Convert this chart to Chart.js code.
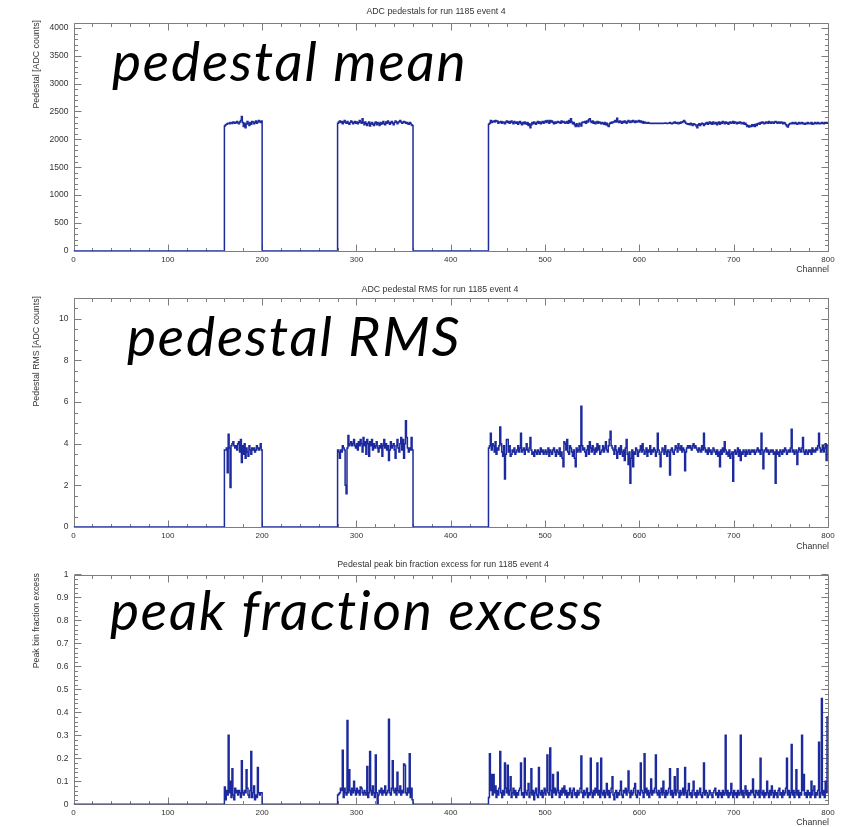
<!DOCTYPE html>
<html><head><meta charset="utf-8">
<script src="https://cdn.jsdelivr.net/npm/chart.js@4.4.1/dist/chart.umd.min.js"></script>
<style>
html,body{margin:0;padding:0;background:#fff;}
#wrap{position:relative;width:844px;height:827px;overflow:hidden;background:#fff;}
canvas{position:absolute;left:0;}
.t{position:absolute;font-family:"Liberation Sans",Arial,sans-serif;font-size:8.8px;color:#333;white-space:nowrap;line-height:1;}
.tc{transform:translateX(-50%);}
.yt{position:absolute;font-family:"Liberation Sans",Arial,sans-serif;font-size:8.8px;color:#333;white-space:nowrap;line-height:1;writing-mode:vertical-rl;transform:rotate(180deg);}
.big{position:absolute;font-family:Lato,sans-serif;font-style:italic;font-size:55px;letter-spacing:1.8px;color:#000;white-space:nowrap;line-height:1;font-variant-ligatures:none;font-feature-settings:"liga" 0,"clig" 0;}
</style></head>
<body>
<div id="wrap">
  <canvas id="c1" width="844" height="280" style="top:0px"></canvas>
  <canvas id="c2" width="844" height="277" style="top:280px"></canvas>
  <canvas id="c3" width="844" height="270" style="top:557px"></canvas>

  <div class="t tc" style="left:436px;top:7px">ADC pedestals for run 1185 event 4</div>
  <div class="t tc" style="left:440px;top:285px">ADC pedestal RMS for run 1185 event 4</div>
  <div class="t tc" style="left:443px;top:560px">Pedestal peak bin fraction excess for run 1185 event 4</div>

  <div class="yt" style="left:32px;top:20px">Pedestal [ADC counts]</div>
  <div class="yt" style="left:32px;top:296px">Pedestal RMS [ADC counts]</div>
  <div class="yt" style="left:32px;top:573px">Peak bin fraction excess</div>

  <div class="t" style="right:15px;top:265px">Channel</div>
  <div class="t" style="right:15px;top:542px">Channel</div>
  <div class="t" style="right:15px;top:818px">Channel</div>

  <div class="big" style="left:112px;top:33px">pedestal mean</div>
  <div class="big" style="left:127px;top:308px">pedestal RMS</div>
  <div class="big" style="left:110px;top:582px">peak fraction excess</div>
</div>
<script>
// ---------------- data ----------------
const NBINS = 800;                 // channels 0..799
const regionStarts = [160, 280, 440];   // first channel of each instrumented block (others read 0)

const channelTicks = [0,100,200,300,400,500,600,700,800];
const meanTicks = [0,500,1000,1500,2000,2500,3000,3500,4000];
const rmsTicks  = [0,2,4,6,8,10];
const pfTicks   = [0,0.1,0.2,0.3,0.4,0.5,0.6,0.7,0.8,0.9,1];

// pedestal mean [ADC counts]
const meanA = [2240,2262,2270,2285,2290,2280,2300,2295,2285,2310,
2300,2290,2305,2320,2295,2280,2310,2340,2410,2300,
2230,2290,2210,2270,2320,2290,2250,2300,2270,2320,
2310,2280,2300,2330,2290,2310,2340,2320,2300,2330];
const meanB = [2290,2310,2330,2300,2320,2280,2310,2340,2300,2290,
2320,2290,2270,2300,2330,2310,2280,2300,2320,2290,
2310,2280,2300,2340,2310,2290,2370,2300,2260,2310,
2280,2250,2290,2310,2240,2280,2300,2270,2250,2290,
2310,2260,2300,2280,2250,2300,2270,2290,2320,2280,
2260,2310,2290,2330,2300,2270,2300,2320,2290,2260,
2300,2330,2310,2280,2300,2320,2340,2310,2290,2300,
2320,2310,2290,2300,2280,2270,2300,2290,2260,2250];
const meanC = [
2270,2290,2340,2300,2320,2330,2310,2340,2320,2330,2290,2310,2300,2320,2290,2310,2300,2280,2310,2330,
2300,2320,2290,2310,2330,2300,2280,2320,2300,2290,2310,2270,2300,2320,2290,2260,2300,2280,2310,2290,
2270,2300,2250,2280,2210,2260,2300,2280,2310,2290,2270,2300,2320,2290,2310,2280,2300,2320,2290,2310,
2330,2300,2340,2320,2290,2340,2310,2330,2300,2280,2310,2290,2300,2320,2300,2310,2290,2330,2300,2320,
2310,2290,2300,2320,2290,2340,2300,2370,2310,2280,2300,2260,2230,2280,2250,2230,2290,2270,2240,2300,
2310,2300,2320,2290,2330,2310,2350,2370,2320,2300,2330,2290,2310,2280,2300,2320,2290,2310,2300,2280,
2300,2290,2270,2300,2260,2290,2250,2230,2280,2300,2290,2310,2300,2320,2340,2310,2380,2320,2300,2330,
2310,2290,2320,2300,2330,2310,2290,2320,2340,2310,2300,2330,2310,2340,2320,2300,2330,2310,2320,2340,
2310,2330,2300,2320,2290,2310,2300,2290,2290,2300,2290,2290,2285,2290,2290,2285,2290,2290,2285,2290,
2290,2285,2290,2290,2285,2290,2290,2295,2290,2285,2290,2290,2300,2290,2280,2290,2300,2310,2290,2300,
2290,2280,2300,2290,2310,2300,2320,2340,2310,2290,2280,2270,2280,2260,2290,2270,2250,2280,2270,2260,
2240,2210,2260,2280,2250,2270,2290,2280,2250,2270,2290,2300,2270,2290,2310,2280,2300,2270,2310,2290,
2280,2300,2260,2290,2310,2270,2300,2290,2320,2300,2280,2310,2290,2300,2270,2300,2310,2290,2300,2320,
2290,2310,2300,2280,2300,2290,2310,2300,2280,2290,2300,2270,2290,2260,2230,2250,2220,2240,2230,2260,
2240,2260,2230,2270,2250,2280,2290,2270,2300,2290,2310,2300,2280,2290,2310,2300,2290,2320,2300,2290,
2310,2300,2290,2310,2320,2300,2290,2310,2300,2290,2310,2300,2280,2300,2290,2260,2240,2220,2260,2280,
2290,2280,2300,2290,2280,2300,2290,2270,2290,2300,2280,2290,2300,2280,2290,2270,2290,2280,2300,2290,
2280,2290,2300,2270,2290,2280,2300,2290,2280,2300,2290,2280,2290,2300,2290,2280,2300,2290,2300,2290];

// pedestal RMS [ADC counts]
const rmsA = [3.7,3.7,3.8,2.6,4.45,3.8,1.9,3.9,4.0,4.1,
3.9,3.8,3.9,3.7,4.0,4.1,3.6,4.2,3.1,3.9,
3.5,4.0,3.3,3.8,3.6,3.4,3.9,3.7,3.5,3.8,
3.7,3.8,3.6,3.7,3.9,3.8,3.7,3.8,4.0,3.7];
const rmsB = [3.7,3.6,3.3,3.7,3.6,3.9,3.8,3.7,2.0,1.6,
3.8,4.4,3.9,4.0,4.1,3.9,4.0,4.2,3.9,3.8,
4.0,3.7,4.1,3.9,4.2,4.0,3.6,4.3,3.9,4.1,
3.5,4.2,4.0,3.4,4.1,3.9,4.2,3.7,4.0,3.8,
3.9,4.1,3.8,3.6,3.9,3.8,4.0,3.4,3.9,4.2,
3.8,4.0,3.7,3.9,3.2,3.7,4.1,3.8,3.9,4.0,
3.7,3.3,3.9,4.2,3.8,3.6,4.0,4.3,3.7,4.2,
3.3,4.0,5.1,4.3,3.8,3.6,3.8,3.7,4.3,3.7];
const rmsC = [
3.8,3.9,4.5,3.7,4.0,3.9,3.6,4.1,3.5,3.8,3.7,3.9,4.8,4.0,3.6,3.4,3.9,2.3,3.5,4.2,
4.2,3.6,3.9,3.4,3.5,3.7,3.6,3.8,3.5,3.6,3.7,3.9,3.6,3.8,4.5,3.6,3.7,3.8,3.5,3.7,
4.0,3.7,3.6,3.8,4.3,3.7,3.5,3.6,3.4,3.7,3.6,3.5,3.7,3.6,3.5,3.8,3.6,3.7,3.5,3.6,
3.7,3.5,3.6,3.8,3.4,3.7,3.6,3.5,3.7,3.8,3.6,3.4,3.7,3.6,3.5,3.8,3.4,3.6,3.3,2.9,
4.1,4.0,3.7,4.2,3.6,3.5,3.9,3.8,3.6,3.4,3.7,3.3,2.9,3.8,3.6,3.7,3.9,3.6,5.8,3.9,
3.7,3.8,3.6,3.4,3.7,3.9,3.5,4.1,3.8,3.6,3.9,3.7,3.5,3.8,3.6,4.0,3.7,3.9,3.5,3.6,
3.7,3.9,3.6,3.8,4.1,3.7,3.6,3.9,4.2,4.6,3.9,3.8,3.7,3.5,3.9,3.7,3.3,3.6,3.8,3.5,
3.9,3.6,3.4,3.7,3.2,3.8,4.2,3.5,3.0,3.6,2.1,3.3,3.7,2.9,3.6,3.5,3.8,3.7,3.4,3.6,
3.7,3.9,3.6,4.0,3.7,3.5,3.6,3.8,3.4,3.7,3.6,3.9,3.5,3.7,3.6,3.8,3.7,3.4,3.6,4.5,
3.7,3.5,2.9,3.6,3.8,3.7,3.5,3.9,3.6,3.4,3.7,3.6,2.5,3.7,3.8,3.6,3.5,3.7,3.9,3.8,
3.6,4.0,3.8,3.7,3.9,3.6,3.8,3.7,2.7,3.6,3.8,3.9,3.8,3.9,3.8,3.7,3.9,4.0,3.8,3.9,
3.8,3.7,3.6,3.8,3.7,3.6,3.9,3.7,4.5,3.8,3.6,3.7,3.5,3.8,3.6,3.7,3.5,3.6,3.8,3.7,
3.6,3.5,3.7,3.4,3.6,2.9,3.7,3.5,3.8,3.6,4.1,3.7,3.5,3.6,3.4,3.7,3.3,3.5,3.6,2.2,
3.6,3.7,3.5,3.6,3.8,3.4,3.7,3.2,3.6,3.5,3.7,3.6,3.4,3.7,3.5,3.6,3.7,3.5,3.6,3.7,
3.6,3.7,3.5,3.6,3.7,3.8,3.6,3.7,3.5,4.5,3.7,2.8,3.6,3.7,3.8,3.6,3.7,3.5,3.6,3.7,
3.6,3.7,3.5,3.6,2.1,3.7,3.5,3.6,3.4,3.7,3.6,3.5,3.7,3.6,3.8,3.7,3.5,3.6,3.7,3.6,
3.8,4.7,3.6,3.7,3.5,3.6,3.7,3.0,3.6,3.8,3.7,3.6,3.8,4.3,3.6,3.5,3.7,3.6,3.5,3.7,
3.6,3.7,3.5,3.8,3.6,3.7,3.6,3.8,3.7,3.9,4.5,3.8,3.6,3.7,3.9,3.6,3.8,4.0,3.2,3.9];

// peak bin fraction excess
const pfA = [0.075,0.02,0.06,0.04,0.30,0.05,0.10,0.03,0.155,0.04,
0.02,0.07,0.05,0.06,0.04,0.06,0.05,0.03,0.19,0.05,
0.04,0.06,0.05,0.15,0.07,0.04,0.03,0.06,0.23,0.03,
0.05,0.08,0.02,0.04,0.03,0.16,0.05,0.04,0.05,0.05];
const pfB = [0.04,0.045,0.05,0.07,0.06,0.235,0.03,0.07,0.05,0.04,
0.365,0.05,0.15,0.06,0.04,0.07,0.05,0.10,0.06,0.04,
0.07,0.05,0.06,0.04,0.075,0.07,0.05,0.04,0.06,0.05,
0.04,0.165,0.03,0.05,0.23,0.06,0.04,0.08,0.05,0.03,
0.215,0.05,0.00,0.04,0.06,0.05,0.07,0.04,0.06,0.05,
0.08,0.04,0.05,0.06,0.37,0.05,0.04,0.07,0.19,0.06,
0.05,0.07,0.04,0.14,0.06,0.05,0.08,0.04,0.06,0.05,
0.175,0.17,0.05,0.04,0.07,0.05,0.22,0.03,0.07,0.02];
const pfC = [
0.03,0.22,0.06,0.13,0.04,0.13,0.05,0.08,0.03,0.06,0.04,0.07,0.23,0.05,0.03,0.06,0.04,0.18,0.07,0.05,
0.17,0.04,0.06,0.12,0.03,0.05,0.07,0.04,0.06,0.03,0.05,0.04,0.06,0.07,0.18,0.04,0.05,0.03,0.20,0.05,
0.04,0.06,0.09,0.03,0.05,0.155,0.04,0.06,0.02,0.05,0.07,0.04,0.03,0.16,0.05,0.04,0.06,0.03,0.05,0.07,
0.04,0.06,0.215,0.05,0.04,0.245,0.06,0.03,0.13,0.05,0.07,0.04,0.06,0.14,0.05,0.03,0.06,0.04,0.07,0.05,
0.08,0.04,0.06,0.03,0.05,0.04,0.07,0.05,0.03,0.06,0.07,0.04,0.05,0.03,0.06,0.04,0.05,0.07,0.21,0.05,
0.03,0.06,0.04,0.05,0.07,0.03,0.05,0.04,0.20,0.05,0.03,0.06,0.04,0.07,0.05,0.18,0.04,0.06,0.03,0.20,
0.05,0.04,0.06,0.03,0.05,0.09,0.04,0.06,0.03,0.05,0.07,0.12,0.04,0.02,0.05,0.06,0.03,0.05,0.04,0.06,
0.10,0.04,0.03,0.06,0.05,0.07,0.04,0.06,0.145,0.05,0.03,0.06,0.04,0.05,0.07,0.09,0.04,0.03,0.06,0.05,
0.04,0.18,0.06,0.05,0.03,0.22,0.05,0.07,0.04,0.06,0.03,0.05,0.11,0.04,0.06,0.05,0.07,0.215,0.05,0.04,
0.06,0.03,0.05,0.07,0.04,0.10,0.05,0.03,0.06,0.04,0.05,0.07,0.155,0.04,0.06,0.03,0.05,0.12,0.04,0.06,
0.155,0.05,0.03,0.06,0.04,0.05,0.07,0.04,0.16,0.05,0.03,0.06,0.09,0.04,0.05,0.03,0.06,0.10,0.04,0.05,
0.03,0.06,0.04,0.05,0.07,0.04,0.03,0.05,0.18,0.04,0.06,0.05,0.03,0.04,0.06,0.05,0.04,0.03,0.05,0.06,
0.07,0.04,0.05,0.03,0.06,0.04,0.05,0.03,0.06,0.04,0.05,0.30,0.04,0.06,0.03,0.05,0.04,0.09,0.05,0.03,
0.06,0.04,0.05,0.03,0.06,0.04,0.05,0.30,0.04,0.06,0.03,0.05,0.08,0.04,0.06,0.03,0.05,0.04,0.06,0.05,
0.11,0.04,0.03,0.06,0.05,0.04,0.06,0.03,0.20,0.05,0.04,0.06,0.03,0.05,0.04,0.10,0.05,0.03,0.06,0.04,
0.08,0.05,0.03,0.06,0.04,0.05,0.03,0.06,0.07,0.04,0.05,0.03,0.06,0.04,0.05,0.07,0.20,0.04,0.06,0.03,
0.05,0.26,0.04,0.06,0.03,0.05,0.15,0.04,0.06,0.03,0.05,0.04,0.30,0.06,0.13,0.04,0.05,0.03,0.06,0.04,
0.05,0.03,0.10,0.04,0.06,0.08,0.03,0.05,0.04,0.06,0.27,0.03,0.05,0.46,0.04,0.06,0.03,0.10,0.05,0.38];

// ---------------- chart construction ----------------
const LINE = '#1c2a9e';
const AXIS = '#7d7d7d';
const FONT = '"Liberation Sans", Arial, sans-serif';

function buildBins(blocks) {
  const bins = new Array(NBINS).fill(0);
  blocks.forEach((arr, b) => arr.forEach((v, k) => { bins[regionStarts[b] + k] = v; }));
  return bins;
}
function toPoints(bins) {
  const pts = bins.map((v, i) => ({x: i, y: v}));
  pts.push({x: NBINS, y: bins[NBINS - 1]});
  return pts;
}

const rootAxes = {
  id: 'rootAxes',
  beforeDatasetsDraw(chart, args, opts) {
    const {ctx, chartArea: a, scales: {x, y}} = chart;
    ctx.save();
    ctx.strokeStyle = AXIS; ctx.lineWidth = 1;
    ctx.beginPath();
    const L = Math.round(a.left) + 0.5, R = Math.round(a.right) + 0.5;
    const T = Math.round(a.top) + 0.5, B = Math.round(a.bottom) + 0.5;
    ctx.rect(L, T, R - L, B - T);
    for (let v = x.min; v <= x.max + 1e-9; v += opts.xMinor) {
      const px = Math.round(x.getPixelForValue(v)) + 0.5;
      const major = Math.abs(v / opts.xMajor - Math.round(v / opts.xMajor)) < 1e-6;
      const len = major ? 7 : 3.5;
      ctx.moveTo(px, B); ctx.lineTo(px, B - len);
      ctx.moveTo(px, T); ctx.lineTo(px, T + len);
    }
    for (let v = y.min; v <= y.max + 1e-9; v += opts.yMinor) {
      const py = Math.round(y.getPixelForValue(v)) + 0.5;
      const major = Math.abs(v / opts.yMajor - Math.round(v / opts.yMajor)) < 1e-6;
      const len = major ? 7 : 3.5;
      ctx.moveTo(L, py); ctx.lineTo(L + len, py);
      ctx.moveTo(R, py); ctx.lineTo(R - len, py);
    }
    ctx.stroke();
    ctx.restore();
  }
};

function makeChart(id, bins, o) {
  const canvas = document.getElementById(id);
  return new Chart(canvas, {
    type: 'line',
    data: {datasets: [{
      data: toPoints(bins), stepped: 'before', borderColor: LINE, borderWidth: 1.5,
      pointRadius: 0, fill: false, tension: 0
    }]},
    options: {
      responsive: false, animation: false, events: [], parsing: false,
      layout: {padding: {top: o.top, right: 16, left: 0, bottom: 0}},
      plugins: {legend: {display: false}, tooltip: {enabled: false}, title: {display: false},
        rootAxes: {xMajor: 100, xMinor: 20, yMajor: o.yMajor, yMinor: o.yMinor}},
      scales: {
        x: {type: 'linear', min: 0, max: NBINS,
          afterBuildTicks: s => { s.ticks = channelTicks.map(v => ({value: v})); },
          afterFit: s => { s.height = o.xH; },
          grid: {display: false, drawTicks: false}, border: {display: false},
          ticks: {padding: 4, color: '#333', font: {family: FONT, size: 8}, maxRotation: 0, autoSkip: false}},
        y: {type: 'linear', min: 0, max: o.ymax,
          afterBuildTicks: s => { s.ticks = o.yTicks.map(v => ({value: v})); },
          afterFit: s => { s.width = 73.5; },
          grid: {display: false, drawTicks: false}, border: {display: false},
          ticks: {padding: 5, color: '#333', font: {family: FONT, size: 8.5}, autoSkip: false,
            callback: o.fmt}}
      }
    },
    plugins: [rootAxes]
  });
}

makeChart('c1', buildBins([meanA, meanB, meanC]),
  {top: 22.6, xH: 29.3, ymax: 4096, yTicks: meanTicks, yMajor: 500, yMinor: 100, fmt: v => String(v)});
makeChart('c2', buildBins([rmsA, rmsB, rmsC]),
  {top: 18, xH: 30, ymax: 11, yTicks: rmsTicks, yMajor: 2, yMinor: 0.5, fmt: v => String(v)});
makeChart('c3', buildBins([pfA, pfB, pfC]),
  {top: 17.5, xH: 22.7, ymax: 1, yTicks: pfTicks, yMajor: 0.1, yMinor: 0.02,
   fmt: v => (v === 0 ? '0' : v === 1 ? '1' : v.toFixed(1))});
</script>
</body></html>
